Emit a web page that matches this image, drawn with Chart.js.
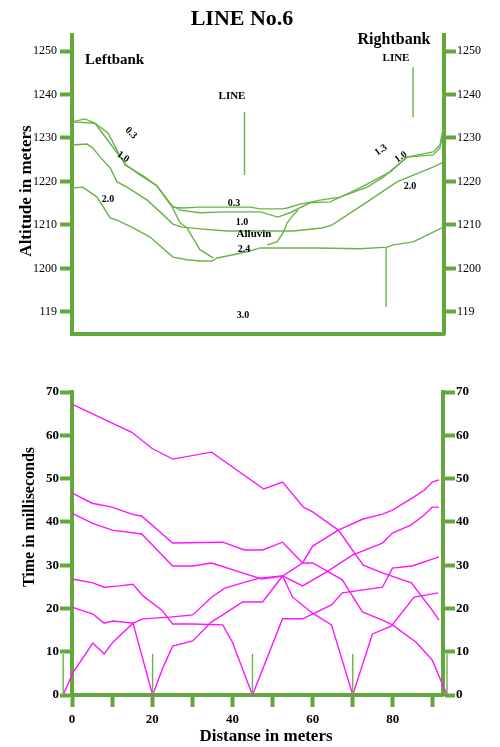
<!DOCTYPE html>
<html>
<head>
<meta charset="utf-8">
<script src="https://cdn.jsdelivr.net/npm/chart.js@4.4.0/dist/chart.umd.min.js"></script>
<style>
  html, body { margin: 0; padding: 0; background: #fff; }
  #wrap { position: relative; width: 500px; height: 747px; overflow: hidden; }
  canvas { position: absolute; left: 0; }
  #topChart { top: 0; }
  #botChart { top: 350px; }
</style>
</head>
<body>
<div id="wrap">
  <canvas id="topChart" width="500" height="350"></canvas>
  <canvas id="botChart" width="500" height="397"></canvas>
</div>
<script>
// ---- data: distance in meters ----
const distMax = 92.5;
const distTicks = [0, 10, 20, 30, 40, 50, 60, 70, 80, 90];
const distLabels = ['0', '', '20', '', '40', '', '60', '', '80', ''];

// ---- top: altitude profile, [distance, altitude] ----
const altTicks = [1190, 1200, 1210, 1220, 1230, 1240, 1250];
const altLabels = ['119', '1200', '1210', '1220', '1230', '1240', '1250'];

const layer03 = [[0,1233.7],[3.2,1234.4],[5.7,1233.4],[9.0,1231.1],[11.2,1227.2],[13.2,1223.8],[17.7,1221.3],[21.1,1219.0],[24.9,1214.1],[27.4,1213.9],[31.8,1214.1],[36.1,1214.1],[44.3,1214.1],[46.8,1213.7],[52.2,1213.7],[53.5,1213.9],[56.7,1214.8],[61.7,1215.7],[66.7,1216.4],[73.4,1218.7],[77.4,1221.0],[83.3,1225.6],[89.8,1226.8],[91.5,1228.4],[92.3,1232.3]];
const layer10 = [[0,1233.7],[5.7,1233.4],[11.2,1226.6],[13.7,1223.6],[16.9,1221.5],[21.1,1219.0],[24.9,1214.4],[26.9,1213.4],[31.8,1212.8],[38.6,1213.0],[46.8,1213.0],[51.2,1211.8],[54.2,1212.8],[59.2,1215.1],[64.2,1215.3],[71.6,1218.5],[79.1,1222.2],[83.3,1225.6],[89.8,1226.1],[91.5,1227.7],[92.3,1231.4]];
const layer20 = [[0,1228.4],[3.7,1228.6],[5.2,1227.7],[7.0,1225.6],[9.5,1223.1],[11.2,1219.9],[13.7,1218.7],[18.7,1215.7],[21.9,1213.0],[25.1,1210.2],[27.4,1209.5],[31.8,1209.1],[38.6,1208.6],[46.8,1208.6],[55.0,1208.6],[62.2,1209.3],[64.7,1210.0],[73.4,1215.3],[80.8,1219.9],[87.3,1222.4],[89.8,1223.3],[92.0,1224.3]];
const layer24 = [[0,1218.5],[2.7,1218.7],[6.2,1216.4],[9.5,1211.6],[11.2,1211.1],[15.2,1209.3],[19.4,1207.2],[25.1,1202.6],[28.6,1202.0],[31.8,1201.7],[34.8,1201.7],[36.1,1202.4],[41.0,1203.3],[44.3,1204.0],[46.8,1204.7],[60.9,1204.7],[71.6,1204.5],[78.4,1204.9],[79.9,1205.4],[84.8,1206.1],[87.3,1207.2],[92.3,1209.5]];
const stepLeft = [[24.9,1214.1],[26.9,1210.5],[28.6,1209.3],[31.8,1204.3],[35.1,1202.4]];
const stepRight = [[48.5,1205.4],[51.0,1206.1],[52.5,1208.2],[53.5,1210.5],[55.0,1212.3],[56.2,1213.4]];
const drop30 = [[78.1,1204.9],[78.1,1191.1]];
const lineMarkA = [[42.9,1236.0],[42.9,1221.5]];
const lineMarkB = [[84.8,1246.3],[84.8,1234.8]];

// ---- bottom: travel time curves, [distance, ms] ----
const timeTicks = [0, 10, 20, 30, 40, 50, 60, 70];
const timeLabels = ['0', '10', '20', '30', '40', '50', '60', '70'];

const shotFar = [[0,67.2],[14.9,60.7],[19.9,57.0],[25.1,54.5],[34.8,56.1],[47.8,47.6],[52.5,49.2],[57.7,43.4],[60.0,42.3],[66.4,38.1],[72.6,30.0],[77.4,28.2],[84.6,25.9],[89.8,19.6],[91.5,17.3]];
const shot93 = [[0,46.7],[5.0,44.3],[10.0,43.4],[14.9,41.8],[17.4,41.3],[25.1,35.1],[37.6,35.3],[43.0,33.5],[47.5,33.5],[52.5,35.3],[57.5,30.5],[60.0,30.5],[67.4,26.6],[72.4,19.2],[77.4,17.3],[79.9,16.2],[85.8,12.2],[89.8,8.1],[93.5,0]];
const shot70 = [[0,42.0],[5.0,39.7],[10.0,38.1],[17.4,37.2],[25.1,29.8],[30.1,29.8],[34.8,30.5],[42.5,28.2],[47.3,26.8],[52.5,27.5],[55.0,22.6],[60.0,18.9],[64.7,16.2],[70.0,0],[74.9,14.1],[79.6,15.9],[85.3,22.6],[91.3,23.6]];
const shot45 = [[0,26.8],[5.2,25.9],[8.0,24.9],[11.9,25.2],[15.2,25.6],[17.7,22.9],[22.4,19.6],[25.1,16.4],[30.1,16.4],[37.6,16.2],[40.0,12.2],[45.0,0],[52.5,17.6],[57.5,17.6],[64.7,20.8],[67.4,23.6],[77.4,24.9],[79.9,29.3],[84.8,29.8],[91.5,31.9]];
const shot20 = [[0,20.3],[5.2,18.7],[8.0,16.6],[10.2,17.1],[15.2,16.6],[20.1,0],[22.6,6.2],[25.1,11.3],[30.1,12.5],[34.8,16.9],[37.6,18.5],[42.5,21.5],[47.5,21.5],[52.5,27.5],[57.5,25.2],[63.4,28.4],[69.9,32.3],[77.4,35.1],[79.9,37.4],[84.6,39.3],[87.8,41.6],[89.8,43.4],[91.5,43.4]];
const shot0 = [[-2.2,0],[0.2,5.1],[5.2,12.0],[8.0,9.5],[10.2,12.2],[15.2,16.6],[17.7,17.6],[24.4,18.0],[30.1,18.5],[34.8,22.6],[38.1,24.7],[42.5,25.9],[46.8,27.0],[52.5,27.5],[57.5,30.5],[60.0,34.4],[62.4,35.8],[66.4,38.1],[72.4,40.6],[77.4,41.8],[79.9,42.7],[84.8,45.5],[87.8,47.3],[89.8,49.2],[91.5,49.7]];
const shotPoints = [-2.2, 20.1, 45.0, 70.0, 93.5];
const shotMarkTop = 9.5;

// ---- style ----
const AXIS_GREEN = '#62a83c';
const LINE_GREEN = '#6cb24a';
const MAGENTA = '#ff14ff';
const SERIF = '"Liberation Serif", "Times New Roman", serif';

function lineSet(arr, color, width) {
  return {
    data: arr.map(p => ({ x: p[0], y: p[1] })),
    borderColor: color,
    borderWidth: width,
    pointRadius: 0,
    tension: 0,
    fill: false,
    clip: false,
  };
}

function textPlugin(items) {
  return {
    id: 'texts',
    afterDraw(chart) {
      const ctx = chart.ctx;
      items.forEach(it => {
        ctx.save();
        ctx.translate(it.x, it.y);
        ctx.rotate((it.rot || 0) * Math.PI / 180);
        ctx.font = it.font + ' ' + SERIF;
        ctx.fillStyle = '#000';
        ctx.textAlign = it.align || 'center';
        ctx.textBaseline = 'middle';
        ctx.fillText(it.text, 0, 0);
        ctx.restore();
      });
    },
  };
}

function yAxis(pos, min, max, ticks, labels, width, font, pad) {
  return {
    type: 'linear',
    position: pos,
    min, max,
    afterFit(s) { s.width = width; },
    afterBuildTicks(s) { s.ticks = ticks.map(v => ({ value: v })); },
    border: { display: true, color: AXIS_GREEN, width: 4 },
    grid: { drawOnChartArea: false, drawTicks: true, tickLength: 12, tickWidth: 4, tickColor: AXIS_GREEN, color: AXIS_GREEN },
    ticks: { callback: (v, i) => labels[i], font, color: '#000', padding: pad },
  };
}

const baseOpts = {
  responsive: false,
  animation: false,
  events: [],
  plugins: { legend: { display: false }, tooltip: { enabled: false } },
};

// ---- top chart ----
const topTexts = [
  { text: 'LINE No.6', x: 242, y: 19, font: 'bold 22px' },
  { text: 'Rightbank', x: 394, y: 40, font: 'bold 16px' },
  { text: 'Leftbank', x: 85, y: 60, align: 'left', font: 'bold 15px' },
  { text: 'LINE', x: 396, y: 58, font: 'bold 11px' },
  { text: 'LINE', x: 232, y: 96, font: 'bold 11px' },
  { text: '0.3', x: 131, y: 133, rot: 45, font: 'bold 10px' },
  { text: '1.0', x: 123, y: 157, rot: 35, font: 'bold 10px' },
  { text: '2.0', x: 108, y: 199, font: 'bold 10px' },
  { text: '0.3', x: 234, y: 203, font: 'bold 10px' },
  { text: '1.0', x: 242, y: 222, font: 'bold 10px' },
  { text: 'Alluvin', x: 254, y: 234, font: 'bold 11px' },
  { text: '2.4', x: 244, y: 249, font: 'bold 10px' },
  { text: '3.0', x: 243, y: 315, font: 'bold 10px' },
  { text: '1.3', x: 381, y: 150, rot: -35, font: 'bold 10px' },
  { text: '1.0', x: 401, y: 157, rot: -35, font: 'bold 10px' },
  { text: '2.0', x: 410, y: 186, font: 'bold 10px' },
  { text: 'Altitude in meters', x: 27, y: 191, rot: -90, font: 'bold 17px' },
];

const topLabelFont = { family: SERIF, size: 12 };
new Chart(document.getElementById('topChart'), {
  type: 'line',
  data: {
    datasets: [layer03, layer10, layer20, layer24, stepLeft, stepRight, drop30, lineMarkA, lineMarkB]
      .map(a => lineSet(a, LINE_GREEN, 1.4)),
  },
  options: {
    ...baseOpts,
    layout: { padding: { top: 35, left: 0, right: 0, bottom: 0 } },
    scales: {
      x: {
        type: 'linear', min: 0, max: distMax,
        afterFit(s) { s.height = 16; },
        border: { display: true, color: AXIS_GREEN, width: 4 },
        grid: { display: false },
        ticks: { display: false },
      },
      y: yAxis('left', 1184.9, 1253.7, altTicks, altLabels, 72, topLabelFont, 3),
      y2: yAxis('right', 1184.9, 1253.7, altTicks, altLabels, 56, topLabelFont, 1),
    },
  },
  plugins: [textPlugin(topTexts)],
});

// ---- bottom chart ----
const botTexts = [
  { text: 'Time in milliseconds', x: 30, y: 167, rot: -90, font: 'bold 16px' },
  { text: 'Distanse in meters', x: 266, y: 387, font: 'bold 17px' },
];

const botLabelFont = { family: SERIF, size: 13, weight: 'bold' };
const shotMarks = shotPoints.map(d => lineSet([[d, 0], [d, shotMarkTop]], LINE_GREEN, 1.4));
new Chart(document.getElementById('botChart'), {
  type: 'line',
  data: {
    datasets: [
      ...shotMarks,
      ...[shotFar, shot93, shot70, shot45, shot20, shot0].map(a => lineSet(a, MAGENTA, 1.4)),
    ],
  },
  options: {
    ...baseOpts,
    layout: { padding: { top: 42, left: 0, right: 0, bottom: 0 } },
    scales: {
      x: {
        type: 'linear', min: 0, max: distMax,
        afterFit(s) { s.height = 52; },
        afterBuildTicks(s) { s.ticks = distTicks.map(v => ({ value: v })); },
        border: { display: true, color: AXIS_GREEN, width: 4 },
        grid: { drawOnChartArea: false, drawTicks: true, tickLength: 12, tickWidth: 4, tickColor: AXIS_GREEN, color: AXIS_GREEN },
        ticks: { callback: (v, i) => distLabels[i], font: botLabelFont, color: '#000', padding: 5, maxRotation: 0, autoSkip: false },
      },
      y: yAxis('left', 0, 70, timeTicks, timeLabels, 72, botLabelFont, 1),
      y2: yAxis('right', 0, 70, timeTicks, timeLabels, 57, botLabelFont, 1),
    },
  },
  plugins: [textPlugin(botTexts)],
});
</script>
</body>
</html>
